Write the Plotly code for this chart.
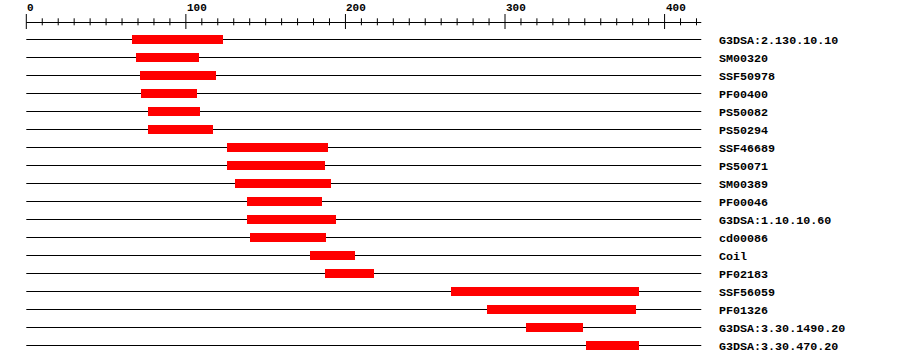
import plotly.graph_objects as go

# ---- data ----
protein_length = 423
features = ["G3DSA:2.130.10.10", "SM00320", "SSF50978", "PF00400", "PS50082", "PS50294",
            "SSF46689", "PS50071", "SM00389", "PF00046", "G3DSA:1.10.10.60", "cd00086",
            "Coil", "PF02183", "SSF56059", "PF01326", "G3DSA:3.30.1490.20", "G3DSA:3.30.470.20"]
starts = [66, 69, 71, 72, 76, 76, 126, 126, 131, 138, 138, 140, 178, 187, 266, 289, 313, 351]
ends = [123, 108, 119, 107, 109, 117, 189, 187, 191, 185, 194, 188, 206, 218, 384, 382, 349, 384]
major_ticks = [0, 100, 200, 300, 400]
minor_ticks = list(range(0, 421, 10))

# ---- layout geometry ----
W, H = 900, 364
px_per_unit = 1.5957
x0_px = 26.3
row0_px = 39.5
row_step = 18.0
ml, mr = 20, 190
xr = [(ml - x0_px) / px_per_unit, (W - mr - x0_px) / px_per_unit]
yr = [(H - row0_px) / row_step, -row0_px / row_step]


def ypix(p):
    return (p - row0_px) / row_step


n = len(features)
rows = list(range(n))

fig = go.Figure()

# backbone lines for each feature row (below the bars)
for r in rows:
    fig.add_shape(type="line", xref="x", yref="y", x0=0, x1=protein_length, y0=r, y1=r,
                  line=dict(color="black", width=1), layer="below")

# ruler
rx, ry = [0, protein_length, None], [ypix(22.5), ypix(22.5), None]
for t in minor_ticks:
    if t in major_ticks:
        rx += [t, t, None]
        ry += [ypix(14), ypix(29), None]
    else:
        rx += [t, t, None]
        ry += [ypix(18.3), ypix(25.3), None]
fig.add_trace(go.Scatter(x=rx, y=ry, mode="lines", line=dict(color="black", width=1),
                         hoverinfo="skip", showlegend=False))

# feature bars
fig.add_trace(go.Bar(
    y=rows, x=[e - s for s, e in zip(starts, ends)], base=starts, orientation="h",
    width=0.5, marker=dict(color="#ff0000", line=dict(width=0)), showlegend=False,
    hovertext=features, hoverinfo="text"))

for t in major_ticks:
    fig.add_annotation(x=t, y=ypix(8.3), xref="x", yref="y", text=str(t), showarrow=False,
                       xanchor="left", yanchor="middle", xshift=-1,
                       font=dict(family="Liberation Mono", size=11, color="black", weight="bold"))

fig.update_layout(
    width=W, height=H, margin=dict(l=ml, r=mr, t=0, b=0),
    plot_bgcolor="white", paper_bgcolor="white", bargap=0,
    xaxis=dict(range=xr, visible=False, fixedrange=True),
    yaxis=dict(range=yr, side="right", tickmode="array", tickvals=rows, ticktext=features,
               showgrid=False, zeroline=False, showline=False, ticks="", ticklabelstandoff=8,
               tickfont=dict(family="Liberation Mono", size=11.7, color="black", weight="bold"),
               fixedrange=True),
)

fig.write_html("out.html")
